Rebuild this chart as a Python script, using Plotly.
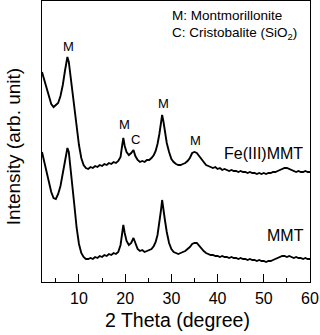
import plotly.graph_objects as go

# 2-theta sampling positions (degree)
two_theta = [2.0, 2.5, 3.0, 3.5, 4.0, 4.5, 5.0, 5.5, 6.0, 6.5, 7.0,
             7.3, 7.5, 7.8,
             8.0, 8.5, 9.0, 9.5, 10.0, 10.5, 11.0, 11.5, 12.0, 12.5, 13.0, 13.5,
             14.0, 14.5, 15.0, 15.5, 16.0, 16.5, 17.0, 17.5, 18.0, 18.5, 19.0,
             19.3, 19.6, 19.9, 20.3, 20.8, 21.3, 21.8, 22.2, 22.7, 23.2, 23.7, 24.2,
             24.7, 25.2, 25.7, 26.2, 26.6, 27.0, 27.4, 27.7, 28.0, 28.3, 28.6, 29.0, 29.5,
             30.0, 30.5, 31.0, 31.5, 32.0, 32.5, 33.0, 33.5, 34.0, 34.5, 35.0, 35.5,
             36.0, 36.5, 37.0, 37.5, 38.0, 38.5, 39.0, 39.5, 40.0, 40.5, 41.0, 41.5,
             42.0, 42.5, 43.0, 43.5, 44.0, 44.5, 45.0, 45.5, 46.0, 46.5, 47.0, 47.5,
             48.0, 48.5, 49.0, 49.5, 50.0, 50.5, 51.0, 51.5, 52.0, 52.5, 53.0, 53.5,
             54.0, 54.5, 55.0, 55.5, 56.0, 56.5, 57.0, 57.5, 58.0, 58.5, 59.0, 59.5, 60.0]

# Intensity (arb. unit), offset traces
fe_mmt = [210, 202, 193, 186, 178, 175, 177, 179, 186, 197, 212,
          221, 225, 220,
          212, 196, 177, 157, 137, 124, 117, 114, 113, 115, 114, 116, 115, 117, 116,
          118, 117, 119, 118, 120, 119, 121, 125,
          135, 144, 136, 130, 127, 129, 132, 126, 122, 120, 121, 120, 122, 122, 124,
          127, 131, 138, 148, 158, 167, 160, 149, 139, 130,
          123, 120, 118, 117, 117, 118, 119, 121, 124, 129, 130, 129, 126, 122, 119,
          117, 116, 115, 114, 115, 113, 114, 112, 113, 112, 111, 112, 111, 111, 110,
          111, 110, 110, 109, 110, 109, 109, 108, 109, 108, 109, 108, 109, 109, 110,
          110, 111, 112, 113, 114, 114, 113, 112, 111, 110, 111, 110, 110, 111, 110, 110]

mmt = [130, 119, 110, 100, 90, 84, 83, 88, 96, 110, 124,
       131, 134, 130,
       122, 102, 77, 54, 38, 29, 25, 23, 23, 24, 23, 25, 24, 26, 25, 27, 26, 28,
       27, 29, 28, 30, 37,
       47, 57, 49, 41, 37, 39, 44, 38, 33, 31, 32, 30, 31, 32, 33, 36, 40, 47, 58,
       70, 82, 74, 62, 50, 39,
       33, 30, 29, 28, 29, 30, 31, 33, 35, 38, 39, 39, 36, 33, 31, 29, 28, 27, 27,
       26, 26, 25, 26, 25, 25, 24, 25, 24, 24, 23, 24, 23, 23, 22, 23, 22, 22, 21,
       22, 21, 21, 20, 21, 21, 22, 23, 24, 25, 26, 26, 25, 26, 25, 24, 25, 24, 24,
       23, 24, 23, 23]

assert len(two_theta) == len(fe_mmt) == len(mmt)

# Peak labels
peak_x = [7.7, 19.85, 22.3, 28.2, 35.3]
peak_y = [236, 158, 142.5, 178.5, 142]
peak_t = ["M", "M", "C", "M", "M"]

FONT = "Liberation Sans, Arial, sans-serif"

fig = go.Figure()
for ys in (fe_mmt, mmt):
    fig.add_trace(go.Scatter(x=two_theta, y=ys, mode="lines",
                             line=dict(color="black", width=1.9),
                             showlegend=False, hoverinfo="skip"))

ann = []
for px, py, t in zip(peak_x, peak_y, peak_t):
    ann.append(dict(x=px, y=py, xref="x", yref="y", text=t, showarrow=False,
                    font=dict(size=13, color="black", family=FONT)))

ann += [
    dict(x=50.0, y=129, xref="x", yref="y", text="Fe(III)MMT", showarrow=False,
         xanchor="center", font=dict(size=16, color="black", family=FONT)),
    dict(x=54.8, y=47, xref="x", yref="y", text="MMT", showarrow=False,
         xanchor="center", font=dict(size=16, color="black", family=FONT)),
    dict(x=29.7, y=267, xref="x", yref="y", text="M: Montmorillonite", showarrow=False,
         xanchor="left", font=dict(size=13.5, color="black", family=FONT)),
    dict(x=29.7, y=249, xref="x", yref="y", text="C: Cristobalite (SiO<sub>2</sub>)",
         showarrow=False, xanchor="left",
         font=dict(size=13.5, color="black", family=FONT)),
    dict(x=-0.108, y=0.48, xref="paper", yref="paper", text="Intensity (arb. unit)",
         showarrow=False, textangle=-90, xanchor="center", yanchor="middle",
         font=dict(size=19, color="black", family=FONT)),
    dict(x=0.505, y=-0.137, xref="paper", yref="paper", text="2 Theta (degree)",
         showarrow=False, xanchor="center", yanchor="middle",
         font=dict(size=19.5, color="black", family=FONT)),
]

fig.update_layout(
    width=320, height=335,
    margin=dict(l=42, r=10, t=1, b=53),
    paper_bgcolor="white", plot_bgcolor="white",
    annotations=ann,
    font=dict(family=FONT, color="black"),
)
fig.update_xaxes(range=[2, 60], tickvals=[10, 20, 30, 40, 50, 60],
                 ticks="inside", ticklen=8, tickwidth=1.2, tickcolor="black",
                 minor=dict(tickvals=[5, 15, 25, 35, 45, 55], ticks="inside",
                            ticklen=4, tickwidth=1.2, tickcolor="black"),
                 showline=True, linecolor="black", linewidth=1.3, mirror=True,
                 showgrid=False, zeroline=False, ticklabelstandoff=2,
                 tickfont=dict(size=16, color="black", family=FONT))
fig.update_yaxes(range=[0, 281], showticklabels=False, ticks="",
                 showline=True, linecolor="black", linewidth=1.3, mirror=True,
                 showgrid=False, zeroline=False)

fig.write_html("out.html", config={"displayModeBar": False},
               post_script="document.body.style.margin='0';"
                           "document.body.style.overflow='hidden';")
